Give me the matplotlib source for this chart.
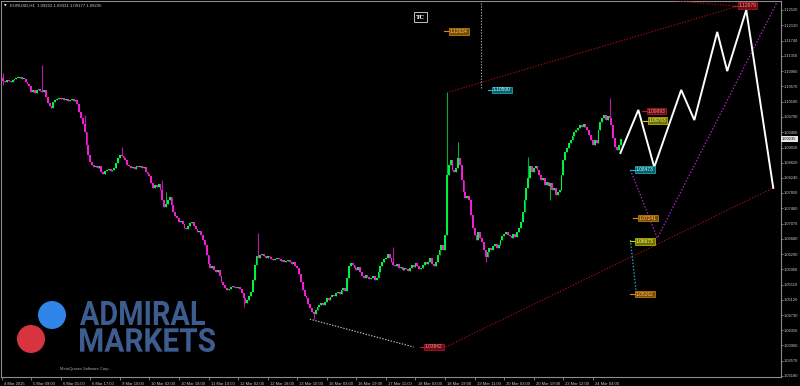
import matplotlib
matplotlib.use('Agg')
import matplotlib.pyplot as plt
import numpy as np
from matplotlib.textpath import TextPath
from matplotlib.patches import PathPatch, Circle
from matplotlib.font_manager import FontProperties
from matplotlib.transforms import Affine2D, ScaledTranslation, blended_transform_factory

# EURUSD H1 closes, bar 0 = 4 Mar 2015 17:00
closes = [
    1.1079, 1.1071, 1.1068, 1.1073, 1.1071, 1.1068, 1.1073, 1.1076, 1.1079, 1.1079,
    1.1081, 1.1076, 1.1076, 1.1068, 1.1063, 1.1058, 1.1043, 1.1048, 1.1040, 1.1048,
    1.1050, 1.1045, 1.1043, 1.1048, 1.1030, 1.1015, 1.1007, 1.1002, 1.1017, 1.1022,
    1.1025, 1.1027, 1.1025, 1.1027, 1.1022, 1.1025, 1.1020, 1.1022, 1.1025, 1.1020,
    1.1022, 1.1012, 1.0992, 1.0976, 1.0961, 1.0941, 1.0907, 1.0882, 1.0864, 1.0856,
    1.0851, 1.0854, 1.0849, 1.0854, 1.0839, 1.0834, 1.0841, 1.0844, 1.0846, 1.0841,
    1.0844, 1.0849, 1.0862, 1.0874, 1.0882, 1.0879, 1.0874, 1.0869, 1.0856, 1.0854,
    1.0849, 1.0851, 1.0846, 1.0854, 1.0851, 1.0854, 1.0849, 1.0851, 1.0839, 1.0834,
    1.0828, 1.0810, 1.0798, 1.0805, 1.0800, 1.0808, 1.0793, 1.0767, 1.0749, 1.0757,
    1.0767, 1.0775, 1.0754, 1.0737, 1.0726, 1.0721, 1.0711, 1.0714, 1.0706, 1.0696,
    1.0693, 1.0701, 1.0708, 1.0711, 1.0701, 1.0693, 1.0685, 1.0688, 1.0678, 1.0665,
    1.0652, 1.0627, 1.0604, 1.0594, 1.0599, 1.0589, 1.0583, 1.0589, 1.0573, 1.0558,
    1.0550, 1.0543, 1.0537, 1.0540, 1.0545, 1.0548, 1.0545, 1.0543, 1.0545, 1.0540,
    1.0530, 1.0517, 1.0504, 1.0512, 1.0522, 1.0532, 1.0563, 1.0601, 1.0624, 1.0619,
    1.0627, 1.0629, 1.0624, 1.0619, 1.0624, 1.0622, 1.0617, 1.0614, 1.0617, 1.0619,
    1.0617, 1.0611, 1.0614, 1.0609, 1.0611, 1.0614, 1.0609, 1.0604, 1.0609, 1.0599,
    1.0594, 1.0578, 1.0558, 1.0537, 1.0522, 1.0517, 1.0502, 1.0491, 1.0481, 1.0476,
    1.0486, 1.0494, 1.0499, 1.0504, 1.0499, 1.0507, 1.0517, 1.0512, 1.0520, 1.0525,
    1.0522, 1.0530, 1.0532, 1.0527, 1.0537, 1.0543, 1.0535, 1.0568, 1.0599, 1.0606,
    1.0601, 1.0594, 1.0589, 1.0596, 1.0583, 1.0573, 1.0568, 1.0576, 1.0571, 1.0566,
    1.0568, 1.0573, 1.0563, 1.0568, 1.0583, 1.0599, 1.0609, 1.0617, 1.0619, 1.0629,
    1.0619, 1.0609, 1.0601, 1.0599, 1.0604, 1.0594, 1.0596, 1.0589, 1.0594, 1.0591,
    1.0586, 1.0594, 1.0601, 1.0596, 1.0606, 1.0599, 1.0591, 1.0594, 1.0601, 1.0609,
    1.0604, 1.0609, 1.0619, 1.0604, 1.0599, 1.0609, 1.0627, 1.0640, 1.0652, 1.0640,
    1.0678, 1.0831, 1.0856, 1.0869, 1.0844, 1.0839, 1.0849, 1.0874, 1.0856, 1.0818,
    1.0788, 1.0772, 1.0777, 1.0767, 1.0729, 1.0696, 1.0678, 1.0665, 1.0685, 1.0670,
    1.0660, 1.0640, 1.0622, 1.0634, 1.0645, 1.0640, 1.0650, 1.0655, 1.0645, 1.0652,
    1.0665, 1.0675, 1.0680, 1.0685, 1.0678, 1.0675, 1.0670, 1.0680, 1.0673, 1.0685,
    1.0696, 1.0711, 1.0737, 1.0767, 1.0798, 1.0823, 1.0854, 1.0839, 1.0849, 1.0854,
    1.0844, 1.0831, 1.0818, 1.0823, 1.0805, 1.0813, 1.0803, 1.0810, 1.0793, 1.0798,
    1.0780, 1.0788, 1.0793, 1.0831, 1.0869, 1.0890, 1.0900, 1.0913, 1.0920, 1.0930,
    1.0941, 1.0946, 1.0951, 1.0959, 1.0953, 1.0961, 1.0953, 1.0946, 1.0933, 1.0920,
    1.0907, 1.0920, 1.0913, 1.0946, 1.0966, 1.0976, 1.0984, 1.0971, 1.0981, 1.0976,
    1.0959, 1.0925, 1.0902, 1.0895, 1.0907, 1.0923,
]
first_open = 1.1082
spike_bars = [1, 22, 45, 65, 87, 89, 139, 212, 241, 247, 285, 329]
spike_highs = [1.1091, 1.1112, 1.0984, 1.0902, 1.0818, 1.0788, 1.0683, 1.0647, 1.1043, 1.0915, 1.0877, 1.1027]
dip_bars = [1, 131, 169, 262, 297]
dip_lows = [1.1061, 1.0494, 1.0463, 1.0609, 1.0767]

date_labels = ['4 Mar 2015', '5 Mar 09:00', '6 Mar 01:00', '6 Mar 17:00', '9 Mar 10:00',
               '10 Mar 02:00', '10 Mar 18:00', '11 Mar 10:00', '12 Mar 02:00', '12 Mar 18:00',
               '13 Mar 10:00', '16 Mar 03:00', '16 Mar 19:00', '17 Mar 11:00', '18 Mar 03:00',
               '18 Mar 19:00', '19 Mar 11:00', '20 Mar 03:00', '20 Mar 19:00', '23 Mar 12:00',
               '24 Mar 04:00']
date_bars = [16 * k for k in range(len(date_labels))]
price_ticks = [1.12520, 1.12130, 1.11740, 1.11350, 1.10960, 1.10570, 1.10180, 1.09790, 1.09400,
               1.09010, 1.08620, 1.08240, 1.07850, 1.07460, 1.07070, 1.06680, 1.06290, 1.05900,
               1.05510, 1.05120, 1.04730, 1.04350, 1.03960, 1.03570, 1.03180]
last_price = 1.09235
ohlc_header = 'EURUSD,H1  1.09222 1.09331 1.09177 1.09235'

# projection zigzag and helper lines (bar index, price)
zigzag_bars = [334.9, 344.6, 353.2, 367.8, 374.9, 387.3, 392.7, 403.0, 417.6]
zigzag_prices = [1.0887, 1.0997, 1.0851, 1.1048, 1.0971, 1.1196, 1.1096, 1.1252, 1.0798]
purple_bars = [340.3, 354.9, 419.7]
purple_prices = [1.0844, 1.0670, 1.1272]
cyan_bars = [340.3, 343.5]
cyan_prices = [1.0665, 1.0530]
red_upper_bars = [242.4, 398.6]
red_upper_prices = [1.1043, 1.1262]
red_top_bars = [359.2, 397.0]
red_top_prices = [1.1278, 1.1262]
red_lower_bars = [240.3, 417.6]
red_lower_prices = [1.0392, 1.0798]
gray_bars = [166.8, 223.0]
gray_prices = [1.0463, 1.0392]
vline_bar = 259.7
vline_price = 1.1053

label_text = ['1.12024', '1.10500', '1.09993', '1.09703', '1.08473', '1.07241', '1.06673', '1.05262', '1.03842', '1.12679']
label_bars = [239.7, 263.0, 346.7, 347.3, 340.3, 341.9, 340.3, 340.3, 226.2, 395.9]
label_prices = [1.1198, 1.1048, 1.0994, 1.0969, 1.0844, 1.0721, 1.0662, 1.0527, 1.0392, 1.1263]
label_kind = ['orange', 'cyan', 'red', 'yellow', 'cyan', 'orange', 'yellow', 'orange', 'red', 'red']
kind_style = {
    'orange': ('#d88a18', '#7a4c00', '#ffc870'),
    'cyan': ('#20b8c8', '#0a6270', '#d0ffff'),
    'red': ('#b81c2c', '#6a0a14', '#ff9090'),
    'yellow': ('#cccc00', '#707000', '#ffff90'),
}

small = 'Liberation Sans'

fig = plt.figure(figsize=(8, 3.86), dpi=100, facecolor='black')
ax = fig.add_axes([1 / 800, 9 / 386, 780 / 800, 376 / 386], facecolor='black')
ax.set_xlim(-0.3, 421.8)
ax.set_ylim(1.03154, 1.12749)

closes = np.array(closes)
opens = np.concatenate([[first_open], closes[:-1]])
highs = np.maximum(opens, closes)
lows = np.minimum(opens, closes)
highs[spike_bars] = spike_highs
lows[dip_bars] = dip_lows
x = np.arange(len(closes))
up = closes >= opens
body_col = np.where(up, '#00f044', '#f020d0')
wick_col = np.where(up, '#00b030', '#b81aa8')
ax.vlines(x, lows, highs, colors=wick_col, lw=0.8, zorder=2)
ax.bar(x, np.maximum(np.abs(closes - opens), 0.00016), width=1.0, bottom=np.minimum(opens, closes),
       color=body_col, linewidth=0, zorder=3)

dot = (0, (1.2, 1.4))
ax.plot(red_upper_bars, red_upper_prices, color='#a01010', lw=0.8, ls=dot, zorder=4)
ax.plot(red_top_bars, red_top_prices, color='#a01010', lw=0.8, ls=dot, zorder=4)
ax.plot(red_lower_bars, red_lower_prices, color='#a01010', lw=0.8, ls=dot, zorder=4)
ax.plot(gray_bars, gray_prices, color='#c8c8c8', lw=0.8, ls=dot, zorder=4)
ax.plot(purple_bars, purple_prices, color='#b020c0', lw=0.9, ls=dot, zorder=4)
ax.plot(cyan_bars, cyan_prices, color='#20a8c8', lw=0.9, ls=dot, zorder=4)
ax.vlines(vline_bar, vline_price, 1.13, colors='#a8a8a8', lw=0.8, linestyles=dot, zorder=4)
ax.plot(zigzag_bars, zigzag_prices, color='white', lw=1.4, zorder=5, solid_joinstyle='miter')

for t, b, p, k in zip(label_text, label_bars, label_prices, label_kind):
    edge, face, txt = kind_style[k]
    ax.plot([b, b + 2.7], [p, p], color=edge, lw=0.8, zorder=6)
    ax.text(b + 3.0, p, t, fontsize=3.5, family=small, color=txt, ha='left', va='center', zorder=7,
            bbox=dict(boxstyle='square,pad=0.18', fc=face, ec=edge, lw=0.5))

ax.text(226.9, 1.1234, 'TC', fontsize=4.2, color='white', ha='center', va='center', fontweight='bold',
        family='DejaVu Serif', bbox=dict(boxstyle='square,pad=0.35', fc='black', ec='#c0c0c0', lw=0.7), zorder=7)

for s in ax.spines.values():
    s.set_color('#8c8c8c')
    s.set_linewidth(0.8)

ax.yaxis.tick_right()
ax.set_yticks(price_ticks)
ax.set_yticklabels([f'{v:.5f}' for v in price_ticks], family=small)
ax.tick_params(axis='y', colors='#8c8c8c', labelcolor='#c8c8c8', labelsize=2.9, length=1.5, width=0.6, pad=0.8)
ax.set_xticks(date_bars)
ax.set_xticklabels(date_labels, family=small)
ax.tick_params(axis='x', colors='#8c8c8c', labelcolor='#c8c8c8', labelsize=3.0, length=2.5, width=0.6, pad=0.8)
shift = ScaledTranslation(1.5 / 72, 0, fig.dpi_scale_trans)
for lbl in ax.get_xticklabels():
    lbl.set_ha('left')
    lbl.set_transform(lbl.get_transform() + shift)

tr = blended_transform_factory(ax.transAxes, ax.transData)
ax.text(1.0015, last_price, f'{last_price:.5f}', transform=tr, fontsize=2.9, family=small, color='black',
        ha='left', va='center', bbox=dict(boxstyle='square,pad=0.25', fc='#e6e6e6', ec='none'),
        clip_on=False, zorder=8)

ax.text(0.0035, 0.989, '\u25bc', transform=ax.transAxes, fontsize=2.4, color='white', ha='left', va='center')
ax.text(0.011, 0.989, ohlc_header, transform=ax.transAxes, fontsize=3.1, family=small, color='#d0d0d0',
        ha='left', va='center')
ax.text(0.0756, 0.021, 'MetaQuotes Software Corp.', transform=ax.transAxes, fontsize=2.9, family=small,
        color='#a8a8a8', ha='left', va='center')

# logo overlay in figure pixels
lay = fig.add_axes([0, 0, 1, 1], facecolor='none')
lay.set_xlim(0, 800)
lay.set_ylim(386, 0)
lay.axis('off')
lay.add_patch(Circle((52, 315), 14, fc='#2f86e8', ec='none'))
lay.add_patch(Circle((31, 339), 14, fc='#d8343f', ec='none'))
fp = FontProperties(family='Roboto', weight='bold')
for word, (x0, y0, x1, y1) in [('ADMIRAL', (80, 301, 205, 325)), ('MARKETS', (80, 328, 215, 352))]:
    tp = TextPath((0, 0), word, size=10, prop=fp)
    bb = tp.get_extents()
    sx = (x1 - x0) / bb.width
    sy = (y1 - y0) / bb.height
    path = Affine2D().translate(-bb.x0, -bb.y0).scale(sx, -sy).translate(x0, y1).transform_path(tp)
    lay.add_patch(PathPatch(path, fc='#3d5c90', ec='none'))

fig.savefig('out.png', dpi=100, facecolor='black')
